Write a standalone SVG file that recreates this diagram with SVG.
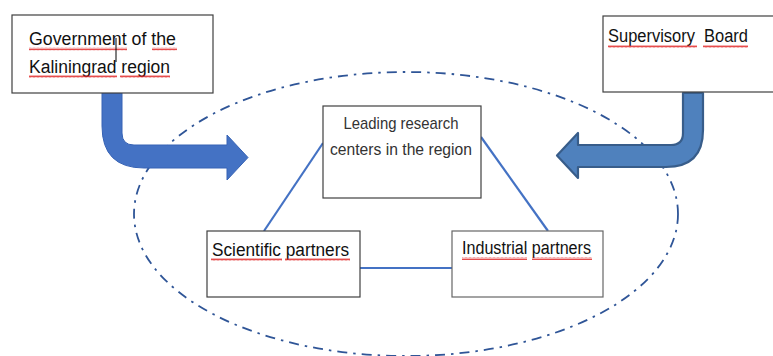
<svg xmlns="http://www.w3.org/2000/svg" width="773" height="356" viewBox="0 0 773 356">
<style>
.box{fill:#fff;stroke:#404040;stroke-width:1.2}
.t{font-family:"Liberation Sans",Arial,sans-serif;font-size:18px;fill:#111}
.tc{font-family:"Liberation Sans",Arial,sans-serif;font-size:17px;fill:#333;text-anchor:middle}
.conn{stroke:#4472C4;stroke-width:2.2;fill:none}
.wave{fill:url(#wave)}
</style>
<defs>
<pattern id="wave" width="4" height="3" patternUnits="userSpaceOnUse">
<path d="M0,2.5 L1,0.5 L2,2.5 L3,0.5 L4,2.5" fill="none" stroke="#e02020" stroke-width="0.8"/>
</pattern>
</defs>
<rect width="773" height="356" fill="#fff"/>
<ellipse cx="406" cy="214" rx="272" ry="142" fill="none" stroke="#2F5597" stroke-width="1.8" stroke-dasharray="10 6 2.5 6"/>
<g id="connectors">
<line class="conn" x1="323" y1="143" x2="264" y2="231"/>
<line class="conn" x1="481" y1="137" x2="548" y2="231"/>
<line class="conn" x1="360" y1="268" x2="452" y2="268"/>
</g>
<g id="arrow-left">
<path d="M102,93 L122,93 L122,133 Q122,145 134,145 L227,145 L227,135 L248,157.5 L227,180 L227,168 L144,168 Q102,168 102,126 Z" fill="#4472C4" stroke="#3763B5" stroke-width="1"/>
</g>
<g id="arrow-right">
<path d="M683,93 L703,93 L703,130 Q703,167 666,167 L578,167 L578,178 L557,155.5 L578,133 L578,145 L671,145 Q683,145 683,133 Z" fill="#4F81BD" stroke="#385D8A" stroke-width="2.2" stroke-linejoin="round"/>
</g>
<g id="government">
<rect class="box" x="12" y="15" width="201" height="78"/>
<text class="t" x="29" y="45" textLength="147" lengthAdjust="spacingAndGlyphs">Government of the</text>
<text class="t" x="29" y="73" textLength="141" lengthAdjust="spacingAndGlyphs">Kaliningrad region</text>
<rect class="wave" x="29" y="47.5" width="98" height="3"/>
<rect class="wave" x="152" y="47.5" width="25" height="3"/>
<rect class="wave" x="29" y="75" width="88" height="3"/>
<rect class="wave" x="120" y="75" width="50" height="3"/>
<line x1="116" y1="38" x2="116" y2="62" stroke="#000" stroke-width="1"/>
</g>
<g id="supervisory">
<rect class="box" x="603" y="16" width="190" height="76"/>
<text class="t" x="608" y="42" xml:space="preserve" textLength="140" lengthAdjust="spacingAndGlyphs">Supervisory  Board</text>
<rect class="wave" x="608" y="45" width="89" height="3"/>
<rect class="wave" x="703" y="45" width="45" height="3"/>
</g>
<g id="leading">
<rect class="box" x="323" y="106" width="158" height="92"/>
<text class="tc" x="401" y="129" textLength="115" lengthAdjust="spacingAndGlyphs">Leading research</text>
<text class="tc" x="401" y="155" textLength="142" lengthAdjust="spacingAndGlyphs">centers in the region</text>
</g>
<g id="scientific">
<rect class="box" x="207" y="231" width="153" height="66"/>
<text class="t" x="212" y="256" textLength="137" lengthAdjust="spacingAndGlyphs">Scientific partners</text>
<rect class="wave" x="211" y="258" width="71" height="3"/>
<rect class="wave" x="285" y="258" width="65" height="3"/>
</g>
<g id="industrial">
<rect class="box" x="452" y="231" width="151" height="66" style="stroke:#666"/>
<text class="t" x="462" y="254" textLength="129" lengthAdjust="spacingAndGlyphs">Industrial partners</text>
<rect class="wave" x="462" y="257" width="65" height="3"/>
<rect class="wave" x="532" y="257" width="60" height="3"/>
</g>
</svg>
